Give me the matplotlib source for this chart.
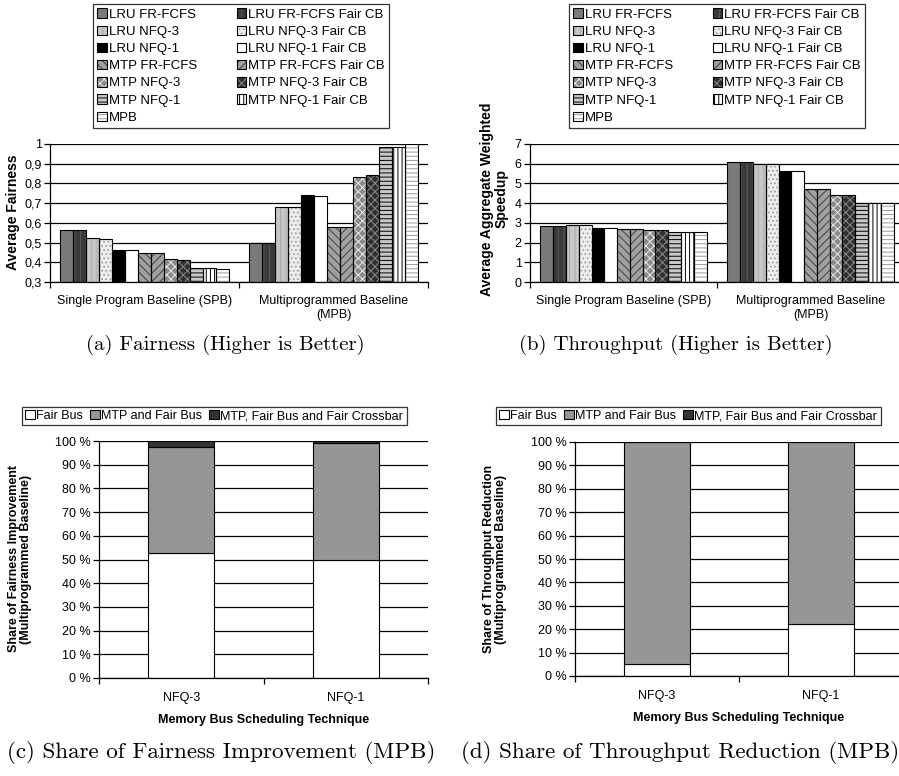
import matplotlib
matplotlib.use("Agg")
import matplotlib.pyplot as plt
import numpy as np

plt.rcParams['font.family'] = ['Liberation Sans', 'DejaVu Sans']
plt.rcParams['hatch.linewidth'] = 0.7

# ---------------- data ----------------
groups_top = ["Single Program Baseline (SPB)", "Multiprogrammed Baseline\n(MPB)"]
series_names = ["LRU FR-FCFS", "LRU FR-FCFS Fair CB", "LRU NFQ-3", "LRU NFQ-3 Fair CB",
                "LRU NFQ-1", "LRU NFQ-1 Fair CB", "MTP FR-FCFS", "MTP FR-FCFS Fair CB",
                "MTP NFQ-3", "MTP NFQ-3 Fair CB", "MTP NFQ-1", "MTP NFQ-1 Fair CB", "MPB"]
fairness_spb = [0.566, 0.566, 0.521, 0.520, 0.460, 0.461, 0.448, 0.447, 0.418, 0.413, 0.370, 0.369, 0.367]
fairness_mpb = [0.497, 0.497, 0.678, 0.682, 0.741, 0.734, 0.581, 0.581, 0.831, 0.842, 0.984, 0.985, 1.000]
speedup_spb = [2.85, 2.85, 2.88, 2.88, 2.75, 2.74, 2.70, 2.70, 2.66, 2.66, 2.56, 2.56, 2.56]
speedup_mpb = [6.07, 6.07, 5.99, 5.99, 5.62, 5.62, 4.70, 4.70, 4.40, 4.40, 4.02, 4.02, 4.02]
fair_ticks = [0.3, 0.4, 0.5, 0.6, 0.7, 0.8, 0.9, 1.0]
fair_tick_labels = ["0,3", "0,4", "0,5", "0,6", "0,7", "0,8", "0,9", "1"]
speed_ticks = [0, 1, 2, 3, 4, 5, 6, 7]

techniques = ["NFQ-3", "NFQ-1"]
share_names = ["Fair Bus", "MTP and Fair Bus", "MTP, Fair Bus and Fair Crossbar"]
fair_share_bus = [52.6, 49.6]
fair_share_mtp = [44.7, 49.4]
fair_share_xbar = [2.7, 1.0]
tput_share_bus = [5.3, 22.3]
tput_share_mtp = [94.7, 77.7]
tput_share_xbar = [0.0, 0.0]
pct_ticks = [0, 10, 20, 30, 40, 50, 60, 70, 80, 90, 100]
pct_labels = [f"{v} %" for v in pct_ticks]

# styles: (facecolor, hatch, hatchcolor)
styles = [
    ("#7a7a7a", None, None),
    ("#3a3a3a", "|||", "#5a5a5a"),
    ("#c6c6c6", "|||", "#aaaaaa"),
    ("#ececec", "....", "#9a9a9a"),
    ("#000000", None, None),
    ("#ffffff", None, None),
    ("#a0a0a0", "\\\\\\\\", "#404040"),
    ("#a0a0a0", "////", "#404040"),
    ("#8a8a8a", "xxxx", "#e8e8e8"),
    ("#303030", "xxxx", "#8a8a8a"),
    ("#c8c8c8", "----", "#000000"),
    ("#ffffff", "||||", "#000000"),
    ("#ffffff", "----", "#9a9a9a"),
]
share_colors = ["#ffffff", "#969696", "#333333"]

W, H = 899, 776
fig = plt.figure(figsize=(W / 100, H / 100), dpi=100)


def fx(px):
    return px / W


def fy(py):
    return 1 - py / H


def axes_px(x0, y0, x1, y1):
    return fig.add_axes([fx(x0), fy(y1), (x1 - x0) / W, (y1 - y0) / H])


FS = 9


def style_axes(ax, xpad):
    ax.spines['top'].set_visible(False)
    ax.spines['right'].set_visible(False)
    for s in ('left', 'bottom'):
        ax.spines[s].set_linewidth(0.9)
        ax.spines[s].set_color('black')
    ax.yaxis.grid(True, color='black', lw=0.9)
    ax.set_axisbelow(True)
    ax.tick_params(axis='y', direction='out', length=4, width=0.9, labelsize=FS, pad=2)
    ax.tick_params(axis='x', which='major', length=0, labelsize=FS, pad=xpad)
    ax.tick_params(axis='x', which='minor', direction='out', length=4, width=0.9)


def grouped(ax, spb, mpb, ylim, ticks, ticklabels):
    n = len(series_names)
    bw = 0.889 / n
    x = np.arange(2)
    handles = []
    for i, name in enumerate(series_names):
        fc, hatch, hc = styles[i]
        pos = x - 0.889 / 2 + bw * (i + 0.5)
        vals = [spb[i], mpb[i]]
        base = ylim[0]
        b1 = ax.bar(pos, np.array(vals) - base, bottom=base, width=bw, color=fc,
                    hatch=hatch, edgecolor=hc if hc else fc, linewidth=0, zorder=2)
        b2 = ax.bar(pos, np.array(vals) - base, bottom=base, width=bw, fill=False,
                    edgecolor='black', linewidth=0.8, zorder=3)
        handles.append((b1, b2))
    ax.set_xlim(-0.5, 1.5)
    ax.set_ylim(*ylim)
    ax.set_yticks(ticks)
    ax.set_yticklabels(ticklabels)
    ax.set_xticks(x)
    ax.set_xticklabels(groups_top, linespacing=1.3)
    ax.set_xticks([-0.5, 0.5, 1.5], minor=True)
    style_axes(ax, 9)
    return handles


def legend_top(handles, x0, y0):
    order = [0, 2, 4, 6, 8, 10, 12, 1, 3, 5, 7, 9, 11]
    leg = fig.legend([handles[i] for i in order], [series_names[i] for i in order],
                     ncol=2, loc='upper left', bbox_to_anchor=(fx(x0), fy(y0)),
                     fontsize=9.5, frameon=True, fancybox=False, edgecolor='black',
                     handlelength=0.72, handleheight=0.72, handletextpad=0.15,
                     labelspacing=0.37, columnspacing=3.0, borderpad=0.33,
                     borderaxespad=0)
    leg.get_frame().set_linewidth(0.9)
    return leg


# ---- (a) fairness ----
ax1 = axes_px(50, 144, 428, 282)
h1 = grouped(ax1, fairness_spb, fairness_mpb, (0.3, 1.0), fair_ticks, fair_tick_labels)
legend_top(h1, 93, 4)
fig.text(fx(13), fy(212), "Average Fairness", rotation=90, ha='center', va='center',
         fontsize=10, fontweight='bold')

# ---- (b) throughput ----
ax2 = axes_px(530, 144, 904, 282)
h2 = grouped(ax2, speedup_spb, speedup_mpb, (0, 7), speed_ticks, [str(t) for t in speed_ticks])
legend_top(h2, 569, 4)
fig.text(fx(494), fy(199), "Average Aggregate Weighted\nSpeedup", rotation=90, ha='center',
         va='center', fontsize=10, fontweight='bold', multialignment='center', linespacing=1.05)


# ---- stacked ----
def stacked(ax, a, b, c):
    x = np.arange(2)
    bw = 0.4
    bars = []
    bottom = np.zeros(2)
    for vals, col in zip([a, b, c], share_colors):
        bars.append(ax.bar(x, vals, bottom=bottom, width=bw, color=col, edgecolor='black',
                           linewidth=0.8, zorder=2))
        bottom = bottom + np.array(vals)
    ax.set_xlim(-0.5, 1.5)
    ax.set_ylim(0, 100)
    ax.set_yticks(pct_ticks)
    ax.set_yticklabels(pct_labels)
    ax.set_xticks(x)
    ax.set_xticklabels(techniques)
    ax.set_xticks([-0.5, 0.5, 1.5], minor=True)
    style_axes(ax, 10)
    ax.set_xlabel("Memory Bus Scheduling Technique", fontsize=FS, fontweight='bold', labelpad=7)
    return bars


def legend_bottom(bars, x0, y0):
    leg = fig.legend(bars, share_names, ncol=3, loc='upper left',
                     bbox_to_anchor=(fx(x0), fy(y0)), fontsize=FS, frameon=True,
                     fancybox=False, edgecolor='black', handlelength=0.75, handleheight=0.75,
                     handletextpad=0.15, columnspacing=0.55, borderpad=0.25, borderaxespad=0)
    leg.get_frame().set_linewidth(0.9)


ax3 = axes_px(99, 441, 428, 678)
b3 = stacked(ax3, fair_share_bus, fair_share_mtp, fair_share_xbar)
legend_bottom(b3, 22, 407)
fig.text(fx(20), fy(559), "Share of Fairness Improvement\n(Multiprogrammed Baseline)", rotation=90,
         ha='center', va='center', fontsize=FS, fontweight='bold', multialignment='center',
         linespacing=1.1)

ax4 = axes_px(575, 442, 903, 676)
b4 = stacked(ax4, tput_share_bus, tput_share_mtp, tput_share_xbar)
legend_bottom(b4, 496, 407)
fig.text(fx(495), fy(559), "Share of Throughput Reduction\n(Multiprogrammed Baseline)", rotation=90,
         ha='center', va='center', fontsize=FS, fontweight='bold', multialignment='center',
         linespacing=1.1)

# captions
fig.text(fx(225), fy(345), "(a) Fairness (Higher is Better)", ha='center', va='center',
         fontsize=15, family='cmr10')
fig.text(fx(676), fy(345), "(b) Throughput (Higher is Better)", ha='center', va='center',
         fontsize=15, family='cmr10')
fig.text(fx(221), fy(752), "(c) Share of Fairness Improvement (MPB)", ha='center', va='center',
         fontsize=16.6, family='cmr10')
fig.text(fx(680), fy(752), "(d) Share of Throughput Reduction (MPB)", ha='center', va='center',
         fontsize=16.6, family='cmr10')

fig.savefig("out.png", dpi=100)
